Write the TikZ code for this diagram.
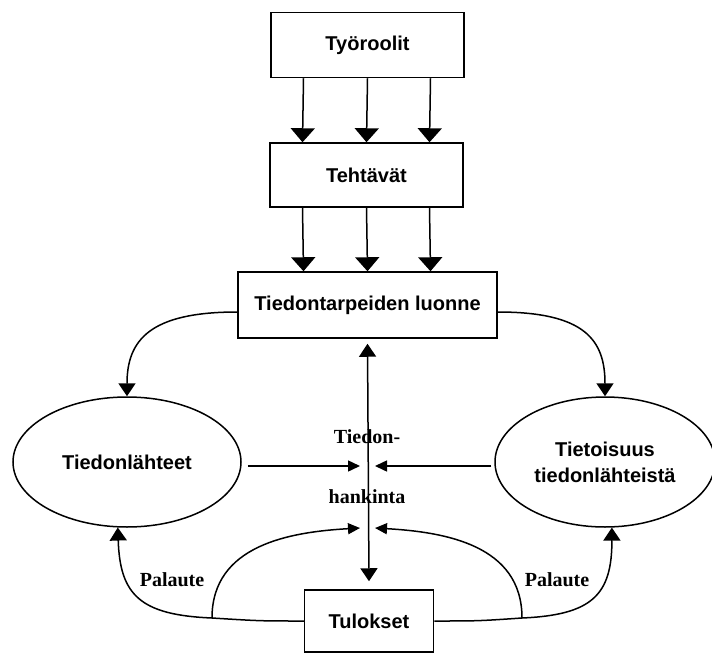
\documentclass[tikz,border=0pt]{standalone}
\usepackage{fontspec}
\setmainfont{Liberation Sans}
\newfontfamily\labelfont{Liberation Serif}
\usetikzlibrary{arrows.meta,shapes.geometric}
\begin{document}
\begin{tikzpicture}[x=1pt,y=-1pt,
  line width=1.5pt,
  every node/.style={inner sep=0pt},
  box/.style={draw, rectangle, font=\fontsize{20}{24}\selectfont\bfseries},
  oval/.style={draw, ellipse, font=\fontsize{20}{26}\selectfont\bfseries, align=center},
  tag/.style={font=\labelfont\fontsize{20}{24}\selectfont\bfseries},
  bigarr/.style={-{Triangle[width=24pt,length=14pt]}},
  arr/.style={-{Triangle[width=17pt,length=13pt]}},
  smallarr/.style={-{Triangle[width=11pt,length=12pt]}}]
\useasboundingbox (0,0) rectangle (712,653);

% boxes
\node[box, minimum width=193, minimum height=65] (ty) at (367.5,45) {Työroolit};
\node[box, minimum width=193, minimum height=64] (te) at (366.5,175) {Tehtävät};
\node[box, minimum width=259, minimum height=66] (tr) at (367.5,305) {Tiedontarpeiden luonne};
\node[box, minimum width=129, minimum height=62] (tu) at (369,621) {Tulokset};

% ellipses
\node[oval, minimum width=228, minimum height=130] (le) at (127,462) {Tiedonlähteet};
\node[oval, minimum width=220, minimum height=130] (re) at (605,462) {Tietoisuus\\tiedonlähteistä};

% labels
\node[tag] (l1) at (367,437) {Tiedon-};
\node[tag] (l2) at (367,497) {hankinta};
\node[tag] (p1) at (172,580) {Palaute};
\node[tag] (p2) at (557,580) {Palaute};

% arrow ends around the central axis
\coordinate (tipL) at (360,466);
\coordinate (tipR) at (375,466);
\coordinate (tipLL) at (360,528);
\coordinate (tipRL) at (375,528);
\coordinate (jl) at (212,618);
\coordinate (jr) at (522,618);

% roles -> tasks -> needs
\foreach \d in {-64,0,63}{
  \draw[bigarr] ([xshift=\d pt]ty.south) -- ([xshift=\d pt]te.north);
  \draw[bigarr] ([xshift=\d pt]te.south) -- ([xshift=\d pt]tr.north);
}

% needs -> sources / awareness
\draw[arr] ([yshift=-7pt]tr.west) .. controls (150,312) and (127,340) .. (le.north);
\draw[arr] ([yshift=-7pt]tr.east) .. controls (585,312) and (605,340) .. (re.north);

% central information seeking axis
\draw[{Triangle[width=17pt,length=13pt]}-{Triangle[width=17pt,length=13pt]}] ([yshift=-5pt]tr.south) -- ([yshift=8pt]tu.north);

% sources / awareness -> seeking
\draw[smallarr] ([xshift=6pt,yshift=-4pt]le.east) -- (tipL);
\draw[smallarr] ([xshift=-3pt,yshift=-4pt]re.west) -- (tipR);

% feedback from results
\draw[arr] (tu.west) .. controls (260,621) .. (jl) .. controls (140,615) and (120,595) .. (le.262);
\draw[arr] (tu.east) .. controls (478,621) .. (jr) .. controls (592,615) and (612,595) .. (re.276);
\draw[smallarr] (jl) .. controls (212,545) and (290,532) .. (tipLL);
\draw[smallarr] (jr) .. controls (522,545) and (445,532) .. (tipRL);
\end{tikzpicture}
\end{document}
